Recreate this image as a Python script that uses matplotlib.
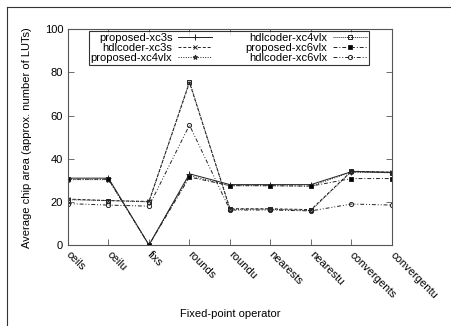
import matplotlib
matplotlib.use("Agg")
import matplotlib.pyplot as plt
from matplotlib.lines import Line2D

plt.rcParams['font.family'] = ['Liberation Sans', 'DejaVu Sans']

categories = ["ceils", "ceilu", "fixs", "rounds", "roundu", "nearests", "nearestu", "convergents", "convergentu"]
series_names = ["proposed-xc3s", "hdlcoder-xc3s", "proposed-xc4vlx",
                "hdlcoder-xc4vlx", "proposed-xc6vlx", "hdlcoder-xc6vlx"]
proposed_xc3s = [31, 31, 0, 33, 28, 28, 28, 34, 33.7]
hdlcoder_xc3s = [21.3, 20.6, 20.2, 75.3, 16.8, 16.8, 16.4, 34.2, 33.7]
proposed_xc4vlx = [30.3, 30.3, 0, 32.2, 27.5, 27.5, 27.3, 33.8, 33.5]
hdlcoder_xc4vlx = [21.0, 20.6, 20.0, 75.8, 16.6, 16.6, 16.0, 34.2, 33.6]
proposed_xc6vlx = [30.5, 30.5, 0, 31.5, 27.5, 27.5, 27.3, 30.8, 30.8]
hdlcoder_xc6vlx = [19.2, 18.5, 18.0, 55.6, 16.2, 16.2, 15.8, 19.0, 18.5]
yticks = [0, 20, 40, 60, 80, 100]

fig = plt.figure(figsize=(4.52, 3.26), dpi=100)
ax = fig.add_axes([0.1504, 0.2485, 0.7168, 0.6615])

x = list(range(len(categories)))
c = '#222222'
styles = [
    dict(ls='-', marker='+', ms=4, mfc='none'),
    dict(ls=(0, (3, 2)), marker='x', ms=3, mfc='none'),
    dict(ls=(0, (1, 1.5)), marker='*', ms=3.5, mfc='#555555'),
    dict(ls=(0, (1, 1)), marker='s', ms=3, mfc='none'),
    dict(ls=(0, (4, 2, 1, 2)), marker='s', ms=3, mfc='black'),
    dict(ls=(0, (4, 2, 1, 2, 1, 2)), marker='o', ms=3, mfc='none'),
]
data = [proposed_xc3s, hdlcoder_xc3s, proposed_xc4vlx, hdlcoder_xc4vlx, proposed_xc6vlx, hdlcoder_xc6vlx]
for name, vals, st in zip(series_names, data, styles):
    ax.plot(x, vals, color=c, lw=0.7, mec=c, mew=0.7, label=name, **st)

fs = 8
ax.set_xlim(0, len(categories) - 1)
ax.set_ylim(0, 100)
ax.set_yticks(yticks)
ax.set_xticks(x)
ax.set_xticklabels(categories, rotation=-45, ha='left', va='center', rotation_mode='anchor', fontsize=fs)
ax.tick_params(axis='both', direction='in', length=4, width=0.6, color='#555555',
               top=True, right=True, labelsize=fs)
ax.tick_params(axis='x', pad=6)
for s in ax.spines.values():
    s.set_linewidth(0.8)
    s.set_color('#555555')

ax.set_ylabel("Average chip area (approx. number of LUTs)", fontsize=fs, labelpad=9)
ax.set_xlabel("Fixed-point operator", fontsize=fs, labelpad=6)

leg = ax.legend(ncol=2, markerfirst=False, loc='upper left', bbox_to_anchor=(0.065, 0.99),
                fontsize=fs, frameon=True, fancybox=False, borderpad=0.15,
                labelspacing=0.0, handlelength=3.1, columnspacing=3.0, handletextpad=0.5,
                borderaxespad=0)
leg.get_frame().set_edgecolor('black')
leg.get_frame().set_linewidth(0.8)

fig.add_artist(Line2D([7 / 452, 1.0], [1 - 7.3 / 326] * 2, transform=fig.transFigure,
                      color='#333333', lw=0.8))
fig.add_artist(Line2D([7 / 452] * 2, [0.0, 1 - 7.3 / 326], transform=fig.transFigure,
                      color='#333333', lw=0.8))

fig.savefig("out.png", dpi=100)
